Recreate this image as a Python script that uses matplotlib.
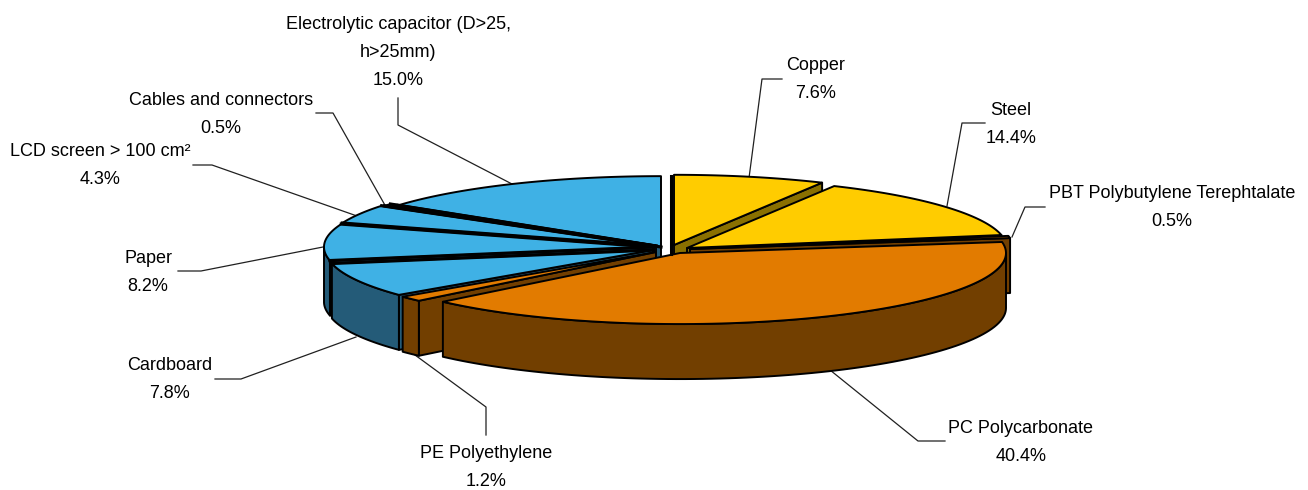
#!/usr/bin/env python3
# exploded 3D pie, drawn by hand since matplotlib has no pie with depth
import numpy as np
import matplotlib
matplotlib.use('Agg')
import matplotlib.pyplot as plt
from matplotlib.patches import Polygon

plt.rcParams['font.family'] = ['Liberation Sans', 'DejaVu Sans']

categories = ['Copper', 'Steel', 'PBT Polybutylene Terephtalate', 'PC Polycarbonate',
              'PE Polyethylene', 'Cardboard', 'Paper', 'LCD screen > 100 cm²',
              'Cables and connectors', 'Electrolytic capacitor (D>25,\nh>25mm)']
values = [7.6, 14.4, 0.5, 40.4, 1.2, 7.8, 8.2, 4.3, 0.5, 15.0]

YELLOW = ('#FFCC00', '#8A7000')
ORANGE = ('#E27B00', '#723F00')
BLUE = ('#3FB1E5', '#245B78')
colors = [YELLOW, YELLOW, ORANGE, ORANGE, ORANGE, BLUE, BLUE, BLUE, BLUE, BLUE]

# slice tip and radius in pixels, every slice is pulled out by its own amount
tips = [(674, 245), (687, 248), (690, 249), (680, 253), (656, 252),
        (653, 250), (653, 247), (654, 246), (656, 246), (661, 247)]
radii = [322, 320, 324, 326, 326, 327, 329, 329, 328, 325]
RATIO = 0.218
DEPTH = 55

# back to front
draw_order = [0, 9, 8, 7, 1, 6, 2, 5, 4, 3]

label_pos = [(816, 79), (1011, 124), (1172, 207), (1021, 442), (486, 467),
             (170, 379), (148, 272), (100, 165), (221, 114), (398, 52)]
leaders = [
    [(749, 178), (762, 79), (782, 79)],
    [(947, 206), (962, 123), (985, 123)],
    [(1012, 237), (1025, 207), (1045, 207)],
    [(830, 370), (918, 441), (945, 441)],
    [(415, 355), (486, 407), (486, 435)],
    [(356, 337), (241, 379), (215, 379)],
    [(323, 247), (201, 271), (178, 271)],
    [(357, 216), (212, 165), (193, 165)],
    [(386, 207), (333, 113), (316, 113)],
    [(512, 184), (398, 125), (398, 98)],
]


def rim(tip, r, theta):
    # theta in radians, clockwise from 12 o'clock
    return np.column_stack((tip[0] + r * np.sin(theta),
                            tip[1] - r * RATIO * np.cos(theta)))


def face(ax, pts, color):
    ax.add_patch(Polygon(pts, closed=True, facecolor=color, edgecolor='black',
                         linewidth=1.4, joinstyle='round'))


def cut_face(ax, tip, p, mid, color):
    # only when the slice lies above that edge on screen, so the wall faces us
    e = p - tip
    m = mid - tip
    if (e[0] * m[1] - e[1] * m[0]) * e[0] >= 0:
        return
    face(ax, [tip, p, p + (0, DEPTH), tip + (0, DEPTH)], color)


fig = plt.figure(figsize=(13.08, 4.90), dpi=100)
ax = fig.add_axes([0, 0, 1, 1])
ax.set_xlim(0, 1308)
ax.set_ylim(490, 0)
ax.axis('off')

for xy in leaders:
    xs, ys = zip(*xy)
    ax.plot(xs, ys, color='#202020', linewidth=0.9, zorder=0.5)

edges = np.concatenate(([0], np.cumsum(values))) / sum(values) * 2 * np.pi

# dark seam in the gap between the first and the last slice
ax.plot([670.5, 670.5], [176, 254], color='black', linewidth=2.2)

for i in draw_order:
    a, b = edges[i], edges[i + 1]
    tip = np.array(tips[i], dtype=float)
    r = radii[i]
    top, side = colors[i]
    arc = rim(tip, r, np.linspace(a, b, 90))
    mid = rim(tip, r, np.array([(a + b) / 2]))[0]

    cut_face(ax, tip, arc[0], mid, side)
    cut_face(ax, tip, arc[-1], mid, side)

    # outer wall, only the part of the rim on the near half
    lo, hi = max(a, np.pi / 2), min(b, 3 * np.pi / 2)
    if hi > lo:
        wall = rim(tip, r, np.linspace(lo, hi, 90))
        face(ax, np.vstack((wall, wall[::-1] + (0, DEPTH))), side)

    face(ax, np.vstack((tip, arc)), top)

    # the blue slices sit so close that their cuts read as heavy black bands
    if top == BLUE[0] and i != 5:
        ax.plot([arc[0][0], tip[0]], [arc[0][1], tip[1]], color='black', linewidth=2.3)
    if top == BLUE[0] and i != 9:
        ax.plot([arc[-1][0], tip[0]], [arc[-1][1], tip[1]], color='black', linewidth=2.3)

for name, v, (x, y) in zip(categories, values, label_pos):
    ax.text(x, y + 0.5, f'{name}\n{v:.1f}%', ha='center', va='center', fontsize=13,
            color='black', linespacing=1.87)

fig.savefig('out.png', dpi=100)
